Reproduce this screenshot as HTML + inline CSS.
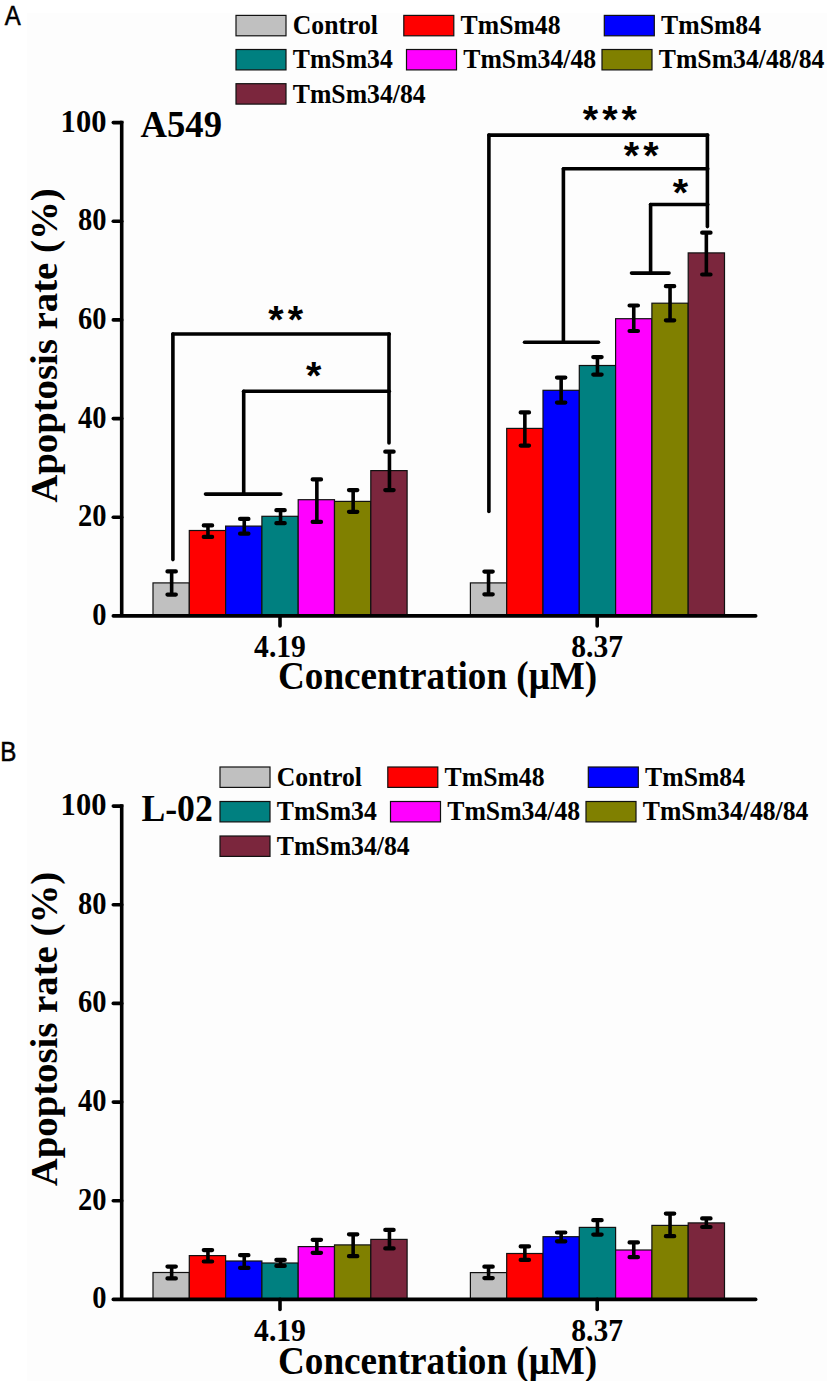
<!DOCTYPE html>
<html><head><meta charset="utf-8"><style>html,body{margin:0;padding:0;background:#fff}svg{display:block}</style></head>
<body>
<svg width="827" height="1381" viewBox="0 0 827 1381">
<style>text{font-family:"Liberation Serif",serif;font-weight:bold;fill:#000}.ytk{font-size:31px}.xtk{font-size:31px}.ctl{font-size:40px}.ytl{font-size:38.2px}.pl{font-size:37px}.lg{font-size:27.5px}.lab{font-family:"Liberation Sans",sans-serif;font-weight:normal;font-size:27.5px;stroke:#000;stroke-width:0.55px}.ast{font-family:"Liberation Sans",sans-serif;font-weight:bold;font-size:39.5px;letter-spacing:4px}</style>
<rect width="827" height="1381" fill="#fff"/>
<rect x="27" y="13" width="800" height="1368" fill="#FDFDFD"/>
<text transform="translate(4.7,24.7) scale(0.87,1)" class="lab">A</text>
<text transform="translate(0.2,761.0) scale(0.88,1)" class="lab">B</text>
<rect x="153.00" y="582.90" width="36.30" height="33.00" fill="#C0C0C0" stroke="#111" stroke-width="1.2"/>
<rect x="189.30" y="530.50" width="36.30" height="85.40" fill="#FF0000" stroke="#111" stroke-width="1.2"/>
<rect x="225.60" y="526.10" width="36.30" height="89.80" fill="#0000FF" stroke="#111" stroke-width="1.2"/>
<rect x="261.90" y="516.30" width="36.30" height="99.60" fill="#008080" stroke="#111" stroke-width="1.2"/>
<rect x="298.20" y="499.70" width="36.30" height="116.20" fill="#FF00FF" stroke="#111" stroke-width="1.2"/>
<rect x="334.50" y="501.40" width="36.30" height="114.50" fill="#808000" stroke="#111" stroke-width="1.2"/>
<rect x="370.80" y="470.60" width="36.30" height="145.30" fill="#7B263D" stroke="#111" stroke-width="1.2"/>
<path d="M171.65,571.40V594.60" stroke="#000" stroke-width="3.6" fill="none"/>
<path d="M167.45,571.40H175.85M167.45,594.60H175.85" stroke="#000" stroke-width="4.2" stroke-linecap="round" fill="none"/>
<path d="M207.95,525.40V536.90" stroke="#000" stroke-width="3.6" fill="none"/>
<path d="M203.75,525.40H212.15M203.75,536.90H212.15" stroke="#000" stroke-width="4.2" stroke-linecap="round" fill="none"/>
<path d="M244.25,518.90V533.70" stroke="#000" stroke-width="3.6" fill="none"/>
<path d="M240.05,518.90H248.45M240.05,533.70H248.45" stroke="#000" stroke-width="4.2" stroke-linecap="round" fill="none"/>
<path d="M280.55,510.20V523.20" stroke="#000" stroke-width="3.6" fill="none"/>
<path d="M276.35,510.20H284.75M276.35,523.20H284.75" stroke="#000" stroke-width="4.2" stroke-linecap="round" fill="none"/>
<path d="M316.85,479.40V521.90" stroke="#000" stroke-width="3.6" fill="none"/>
<path d="M312.65,479.40H321.05M312.65,521.90H321.05" stroke="#000" stroke-width="4.2" stroke-linecap="round" fill="none"/>
<path d="M353.15,490.10V511.80" stroke="#000" stroke-width="3.6" fill="none"/>
<path d="M348.95,490.10H357.35M348.95,511.80H357.35" stroke="#000" stroke-width="4.2" stroke-linecap="round" fill="none"/>
<path d="M389.45,451.70V490.10" stroke="#000" stroke-width="3.6" fill="none"/>
<path d="M385.25,451.70H393.65M385.25,490.10H393.65" stroke="#000" stroke-width="4.2" stroke-linecap="round" fill="none"/>
<rect x="470.40" y="582.90" width="36.30" height="33.00" fill="#C0C0C0" stroke="#111" stroke-width="1.2"/>
<rect x="506.70" y="428.40" width="36.30" height="187.50" fill="#FF0000" stroke="#111" stroke-width="1.2"/>
<rect x="543.00" y="390.30" width="36.30" height="225.60" fill="#0000FF" stroke="#111" stroke-width="1.2"/>
<rect x="579.30" y="365.50" width="36.30" height="250.40" fill="#008080" stroke="#111" stroke-width="1.2"/>
<rect x="615.60" y="318.70" width="36.30" height="297.20" fill="#FF00FF" stroke="#111" stroke-width="1.2"/>
<rect x="651.90" y="303.20" width="36.30" height="312.70" fill="#808000" stroke="#111" stroke-width="1.2"/>
<rect x="688.20" y="252.90" width="36.30" height="363.00" fill="#7B263D" stroke="#111" stroke-width="1.2"/>
<path d="M488.55,571.60V594.30" stroke="#000" stroke-width="3.6" fill="none"/>
<path d="M484.35,571.60H492.75M484.35,594.30H492.75" stroke="#000" stroke-width="4.2" stroke-linecap="round" fill="none"/>
<path d="M524.85,412.40V445.60" stroke="#000" stroke-width="3.6" fill="none"/>
<path d="M520.65,412.40H529.05M520.65,445.60H529.05" stroke="#000" stroke-width="4.2" stroke-linecap="round" fill="none"/>
<path d="M561.15,377.60V402.60" stroke="#000" stroke-width="3.6" fill="none"/>
<path d="M556.95,377.60H565.35M556.95,402.60H565.35" stroke="#000" stroke-width="4.2" stroke-linecap="round" fill="none"/>
<path d="M597.45,357.10V374.60" stroke="#000" stroke-width="3.6" fill="none"/>
<path d="M593.25,357.10H601.65M593.25,374.60H601.65" stroke="#000" stroke-width="4.2" stroke-linecap="round" fill="none"/>
<path d="M633.75,305.50V331.00" stroke="#000" stroke-width="3.6" fill="none"/>
<path d="M629.55,305.50H637.95M629.55,331.00H637.95" stroke="#000" stroke-width="4.2" stroke-linecap="round" fill="none"/>
<path d="M670.05,286.20V320.30" stroke="#000" stroke-width="3.6" fill="none"/>
<path d="M665.85,286.20H674.25M665.85,320.30H674.25" stroke="#000" stroke-width="4.2" stroke-linecap="round" fill="none"/>
<path d="M706.35,232.70V274.50" stroke="#000" stroke-width="3.6" fill="none"/>
<path d="M702.15,232.70H710.55M702.15,274.50H710.55" stroke="#000" stroke-width="4.2" stroke-linecap="round" fill="none"/>
<path d="M121.7,120.80V615.90" stroke="#000" stroke-width="3.6" fill="none"/>
<path d="M113.3,615.90H755.7" stroke="#000" stroke-width="3.6" fill="none" stroke-linecap="round"/>
<path d="M113.3,517.24H121.7" stroke="#000" stroke-width="3.6" fill="none" stroke-linecap="round"/>
<path d="M113.3,418.58H121.7" stroke="#000" stroke-width="3.6" fill="none" stroke-linecap="round"/>
<path d="M113.3,319.92H121.7" stroke="#000" stroke-width="3.6" fill="none" stroke-linecap="round"/>
<path d="M113.3,221.26H121.7" stroke="#000" stroke-width="3.6" fill="none" stroke-linecap="round"/>
<path d="M113.3,122.60H121.7" stroke="#000" stroke-width="3.6" fill="none" stroke-linecap="round"/>
<path d="M280.0,615.90V625.90" stroke="#000" stroke-width="3.6" fill="none" stroke-linecap="round"/>
<path d="M597.2,615.90V625.90" stroke="#000" stroke-width="3.6" fill="none" stroke-linecap="round"/>
<text transform="translate(106.4,624.90) scale(0.92,1)" text-anchor="end" class="ytk">0</text>
<text transform="translate(106.4,526.24) scale(0.92,1)" text-anchor="end" class="ytk">20</text>
<text transform="translate(106.4,427.58) scale(0.92,1)" text-anchor="end" class="ytk">40</text>
<text transform="translate(106.4,328.92) scale(0.92,1)" text-anchor="end" class="ytk">60</text>
<text transform="translate(106.4,230.26) scale(0.92,1)" text-anchor="end" class="ytk">80</text>
<text transform="translate(106.4,131.60) scale(0.985,1)" text-anchor="end" class="ytk">100</text>
<text transform="translate(280.0,656.60) scale(0.955,1)" text-anchor="middle" class="xtk">4.19</text>
<text transform="translate(597.2,656.60) scale(0.955,1)" text-anchor="middle" class="xtk">8.37</text>
<text transform="translate(437.6,689.10) scale(0.929,1)" text-anchor="middle" class="ctl">Concentration (&#956;M)</text>
<text transform="translate(56.8,345.60) rotate(-90) scale(1.015,1)" text-anchor="middle" class="ytl">Apoptosis rate (%)</text>
<text transform="translate(140.6,137.30) scale(0.99,1)" class="pl">A549</text>
<rect x="236.00" y="15.40" width="50" height="20.4" fill="#C0C0C0" stroke="#111" stroke-width="1.2"/>
<text transform="translate(292.80,34.20) scale(0.935,1)" class="lg">Control</text>
<rect x="403.80" y="15.40" width="50" height="20.4" fill="#FF0000" stroke="#111" stroke-width="1.2"/>
<text transform="translate(460.60,34.20) scale(0.935,1)" class="lg">TmSm48</text>
<rect x="604.30" y="15.40" width="50" height="20.4" fill="#0000FF" stroke="#111" stroke-width="1.2"/>
<text transform="translate(661.10,34.20) scale(0.935,1)" class="lg">TmSm84</text>
<rect x="236.00" y="49.50" width="50" height="20.4" fill="#008080" stroke="#111" stroke-width="1.2"/>
<text transform="translate(292.80,68.30) scale(0.935,1)" class="lg">TmSm34</text>
<rect x="406.50" y="49.50" width="50" height="20.4" fill="#FF00FF" stroke="#111" stroke-width="1.2"/>
<text transform="translate(463.30,68.30) scale(0.935,1)" class="lg">TmSm34/48</text>
<rect x="602.00" y="49.50" width="50" height="20.4" fill="#808000" stroke="#111" stroke-width="1.2"/>
<text transform="translate(658.80,68.30) scale(0.935,1)" class="lg">TmSm34/48/84</text>
<rect x="236.00" y="83.70" width="50" height="20.4" fill="#7B263D" stroke="#111" stroke-width="1.2"/>
<text transform="translate(292.80,102.50) scale(0.935,1)" class="lg">TmSm34/84</text>
<rect x="153.00" y="1272.50" width="36.30" height="26.90" fill="#C0C0C0" stroke="#111" stroke-width="1.2"/>
<rect x="189.30" y="1255.60" width="36.30" height="43.80" fill="#FF0000" stroke="#111" stroke-width="1.2"/>
<rect x="225.60" y="1261.00" width="36.30" height="38.40" fill="#0000FF" stroke="#111" stroke-width="1.2"/>
<rect x="261.90" y="1263.00" width="36.30" height="36.40" fill="#008080" stroke="#111" stroke-width="1.2"/>
<rect x="298.20" y="1246.60" width="36.30" height="52.80" fill="#FF00FF" stroke="#111" stroke-width="1.2"/>
<rect x="334.50" y="1244.90" width="36.30" height="54.50" fill="#808000" stroke="#111" stroke-width="1.2"/>
<rect x="370.80" y="1239.40" width="36.30" height="60.00" fill="#7B263D" stroke="#111" stroke-width="1.2"/>
<path d="M171.65,1266.60V1278.40" stroke="#000" stroke-width="3.6" fill="none"/>
<path d="M167.45,1266.60H175.85M167.45,1278.40H175.85" stroke="#000" stroke-width="4.2" stroke-linecap="round" fill="none"/>
<path d="M207.95,1250.10V1261.50" stroke="#000" stroke-width="3.6" fill="none"/>
<path d="M203.75,1250.10H212.15M203.75,1261.50H212.15" stroke="#000" stroke-width="4.2" stroke-linecap="round" fill="none"/>
<path d="M244.25,1255.20V1267.90" stroke="#000" stroke-width="3.6" fill="none"/>
<path d="M240.05,1255.20H248.45M240.05,1267.90H248.45" stroke="#000" stroke-width="4.2" stroke-linecap="round" fill="none"/>
<path d="M280.55,1259.90V1265.90" stroke="#000" stroke-width="3.6" fill="none"/>
<path d="M276.35,1259.90H284.75M276.35,1265.90H284.75" stroke="#000" stroke-width="4.2" stroke-linecap="round" fill="none"/>
<path d="M316.85,1239.80V1252.80" stroke="#000" stroke-width="3.6" fill="none"/>
<path d="M312.65,1239.80H321.05M312.65,1252.80H321.05" stroke="#000" stroke-width="4.2" stroke-linecap="round" fill="none"/>
<path d="M353.15,1234.30V1256.20" stroke="#000" stroke-width="3.6" fill="none"/>
<path d="M348.95,1234.30H357.35M348.95,1256.20H357.35" stroke="#000" stroke-width="4.2" stroke-linecap="round" fill="none"/>
<path d="M389.45,1229.90V1248.40" stroke="#000" stroke-width="3.6" fill="none"/>
<path d="M385.25,1229.90H393.65M385.25,1248.40H393.65" stroke="#000" stroke-width="4.2" stroke-linecap="round" fill="none"/>
<rect x="470.40" y="1272.60" width="36.30" height="26.80" fill="#C0C0C0" stroke="#111" stroke-width="1.2"/>
<rect x="506.70" y="1253.50" width="36.30" height="45.90" fill="#FF0000" stroke="#111" stroke-width="1.2"/>
<rect x="543.00" y="1236.70" width="36.30" height="62.70" fill="#0000FF" stroke="#111" stroke-width="1.2"/>
<rect x="579.30" y="1227.40" width="36.30" height="72.00" fill="#008080" stroke="#111" stroke-width="1.2"/>
<rect x="615.60" y="1250.00" width="36.30" height="49.40" fill="#FF00FF" stroke="#111" stroke-width="1.2"/>
<rect x="651.90" y="1225.40" width="36.30" height="74.00" fill="#808000" stroke="#111" stroke-width="1.2"/>
<rect x="688.20" y="1222.90" width="36.30" height="76.50" fill="#7B263D" stroke="#111" stroke-width="1.2"/>
<path d="M488.55,1266.70V1278.10" stroke="#000" stroke-width="3.6" fill="none"/>
<path d="M484.35,1266.70H492.75M484.35,1278.10H492.75" stroke="#000" stroke-width="4.2" stroke-linecap="round" fill="none"/>
<path d="M524.85,1246.40V1259.90" stroke="#000" stroke-width="3.6" fill="none"/>
<path d="M520.65,1246.40H529.05M520.65,1259.90H529.05" stroke="#000" stroke-width="4.2" stroke-linecap="round" fill="none"/>
<path d="M561.15,1232.50V1241.30" stroke="#000" stroke-width="3.6" fill="none"/>
<path d="M556.95,1232.50H565.35M556.95,1241.30H565.35" stroke="#000" stroke-width="4.2" stroke-linecap="round" fill="none"/>
<path d="M597.45,1220.20V1234.60" stroke="#000" stroke-width="3.6" fill="none"/>
<path d="M593.25,1220.20H601.65M593.25,1234.60H601.65" stroke="#000" stroke-width="4.2" stroke-linecap="round" fill="none"/>
<path d="M633.75,1242.40V1257.20" stroke="#000" stroke-width="3.6" fill="none"/>
<path d="M629.55,1242.40H637.95M629.55,1257.20H637.95" stroke="#000" stroke-width="4.2" stroke-linecap="round" fill="none"/>
<path d="M670.05,1213.60V1236.20" stroke="#000" stroke-width="3.6" fill="none"/>
<path d="M665.85,1213.60H674.25M665.85,1236.20H674.25" stroke="#000" stroke-width="4.2" stroke-linecap="round" fill="none"/>
<path d="M706.35,1218.40V1227.00" stroke="#000" stroke-width="3.6" fill="none"/>
<path d="M702.15,1218.40H710.55M702.15,1227.00H710.55" stroke="#000" stroke-width="4.2" stroke-linecap="round" fill="none"/>
<path d="M121.7,804.30V1299.40" stroke="#000" stroke-width="3.6" fill="none"/>
<path d="M113.3,1299.40H755.7" stroke="#000" stroke-width="3.6" fill="none" stroke-linecap="round"/>
<path d="M113.3,1200.74H121.7" stroke="#000" stroke-width="3.6" fill="none" stroke-linecap="round"/>
<path d="M113.3,1102.08H121.7" stroke="#000" stroke-width="3.6" fill="none" stroke-linecap="round"/>
<path d="M113.3,1003.42H121.7" stroke="#000" stroke-width="3.6" fill="none" stroke-linecap="round"/>
<path d="M113.3,904.76H121.7" stroke="#000" stroke-width="3.6" fill="none" stroke-linecap="round"/>
<path d="M113.3,806.10H121.7" stroke="#000" stroke-width="3.6" fill="none" stroke-linecap="round"/>
<path d="M280.0,1299.40V1309.40" stroke="#000" stroke-width="3.6" fill="none" stroke-linecap="round"/>
<path d="M597.2,1299.40V1309.40" stroke="#000" stroke-width="3.6" fill="none" stroke-linecap="round"/>
<text transform="translate(106.4,1308.40) scale(0.92,1)" text-anchor="end" class="ytk">0</text>
<text transform="translate(106.4,1209.74) scale(0.92,1)" text-anchor="end" class="ytk">20</text>
<text transform="translate(106.4,1111.08) scale(0.92,1)" text-anchor="end" class="ytk">40</text>
<text transform="translate(106.4,1012.42) scale(0.92,1)" text-anchor="end" class="ytk">60</text>
<text transform="translate(106.4,913.76) scale(0.92,1)" text-anchor="end" class="ytk">80</text>
<text transform="translate(106.4,815.10) scale(0.985,1)" text-anchor="end" class="ytk">100</text>
<text transform="translate(280.0,1341.00) scale(0.955,1)" text-anchor="middle" class="xtk">4.19</text>
<text transform="translate(597.2,1341.00) scale(0.955,1)" text-anchor="middle" class="xtk">8.37</text>
<text transform="translate(437.6,1373.50) scale(0.929,1)" text-anchor="middle" class="ctl">Concentration (&#956;M)</text>
<text transform="translate(56.8,1029.10) rotate(-90) scale(1.015,1)" text-anchor="middle" class="ytl">Apoptosis rate (%)</text>
<text transform="translate(141.4,820.80) scale(0.965,1)" class="pl">L-02</text>
<rect x="220.00" y="767.00" width="50" height="20.4" fill="#C0C0C0" stroke="#111" stroke-width="1.2"/>
<text transform="translate(276.80,785.80) scale(0.935,1)" class="lg">Control</text>
<rect x="387.80" y="767.00" width="50" height="20.4" fill="#FF0000" stroke="#111" stroke-width="1.2"/>
<text transform="translate(444.60,785.80) scale(0.935,1)" class="lg">TmSm48</text>
<rect x="588.30" y="767.00" width="50" height="20.4" fill="#0000FF" stroke="#111" stroke-width="1.2"/>
<text transform="translate(645.10,785.80) scale(0.935,1)" class="lg">TmSm84</text>
<rect x="220.00" y="801.50" width="50" height="20.4" fill="#008080" stroke="#111" stroke-width="1.2"/>
<text transform="translate(276.80,820.30) scale(0.935,1)" class="lg">TmSm34</text>
<rect x="390.50" y="801.50" width="50" height="20.4" fill="#FF00FF" stroke="#111" stroke-width="1.2"/>
<text transform="translate(447.30,820.30) scale(0.935,1)" class="lg">TmSm34/48</text>
<rect x="586.00" y="801.50" width="50" height="20.4" fill="#808000" stroke="#111" stroke-width="1.2"/>
<text transform="translate(642.80,820.30) scale(0.935,1)" class="lg">TmSm34/48/84</text>
<rect x="220.00" y="836.00" width="50" height="20.4" fill="#7B263D" stroke="#111" stroke-width="1.2"/>
<text transform="translate(276.80,854.80) scale(0.935,1)" class="lg">TmSm34/84</text>
<path d="M172.90,559.60L172.90,334.00" stroke="#000" stroke-width="3.6" fill="none" stroke-linecap="round"/>
<path d="M172.90,334.00L389.30,334.00" stroke="#000" stroke-width="3.6" fill="none" stroke-linecap="round"/>
<path d="M389.00,334.00L389.00,443.00" stroke="#000" stroke-width="3.6" fill="none" stroke-linecap="round"/>
<path d="M243.70,494.10L243.70,391.20" stroke="#000" stroke-width="3.6" fill="none" stroke-linecap="round"/>
<path d="M243.70,391.20L389.30,391.20" stroke="#000" stroke-width="3.6" fill="none" stroke-linecap="round"/>
<path d="M205.50,494.10L280.80,494.10" stroke="#000" stroke-width="3.6" fill="none" stroke-linecap="round"/>
<path d="M488.90,511.50L488.90,135.10" stroke="#000" stroke-width="3.6" fill="none" stroke-linecap="round"/>
<path d="M488.90,135.10L707.70,135.10" stroke="#000" stroke-width="3.6" fill="none" stroke-linecap="round"/>
<path d="M707.40,135.10L707.40,226.60" stroke="#000" stroke-width="3.6" fill="none" stroke-linecap="round"/>
<path d="M563.40,342.20L563.40,168.80" stroke="#000" stroke-width="3.6" fill="none" stroke-linecap="round"/>
<path d="M563.40,168.80L707.70,168.80" stroke="#000" stroke-width="3.6" fill="none" stroke-linecap="round"/>
<path d="M524.50,342.20L598.50,342.20" stroke="#000" stroke-width="3.6" fill="none" stroke-linecap="round"/>
<path d="M650.60,273.10L650.60,204.50" stroke="#000" stroke-width="3.6" fill="none" stroke-linecap="round"/>
<path d="M650.60,204.50L707.70,204.50" stroke="#000" stroke-width="3.6" fill="none" stroke-linecap="round"/>
<path d="M631.50,273.10L669.00,273.10" stroke="#000" stroke-width="3.6" fill="none" stroke-linecap="round"/>
<text x="268.28" y="333.48" class="ast">**</text>
<text x="305.98" y="389.38" class="ast">*</text>
<text x="582.78" y="132.68" class="ast">***</text>
<text x="623.78" y="168.58" class="ast">**</text>
<text x="672.78" y="205.58" class="ast">*</text>
</svg>
</body></html>
